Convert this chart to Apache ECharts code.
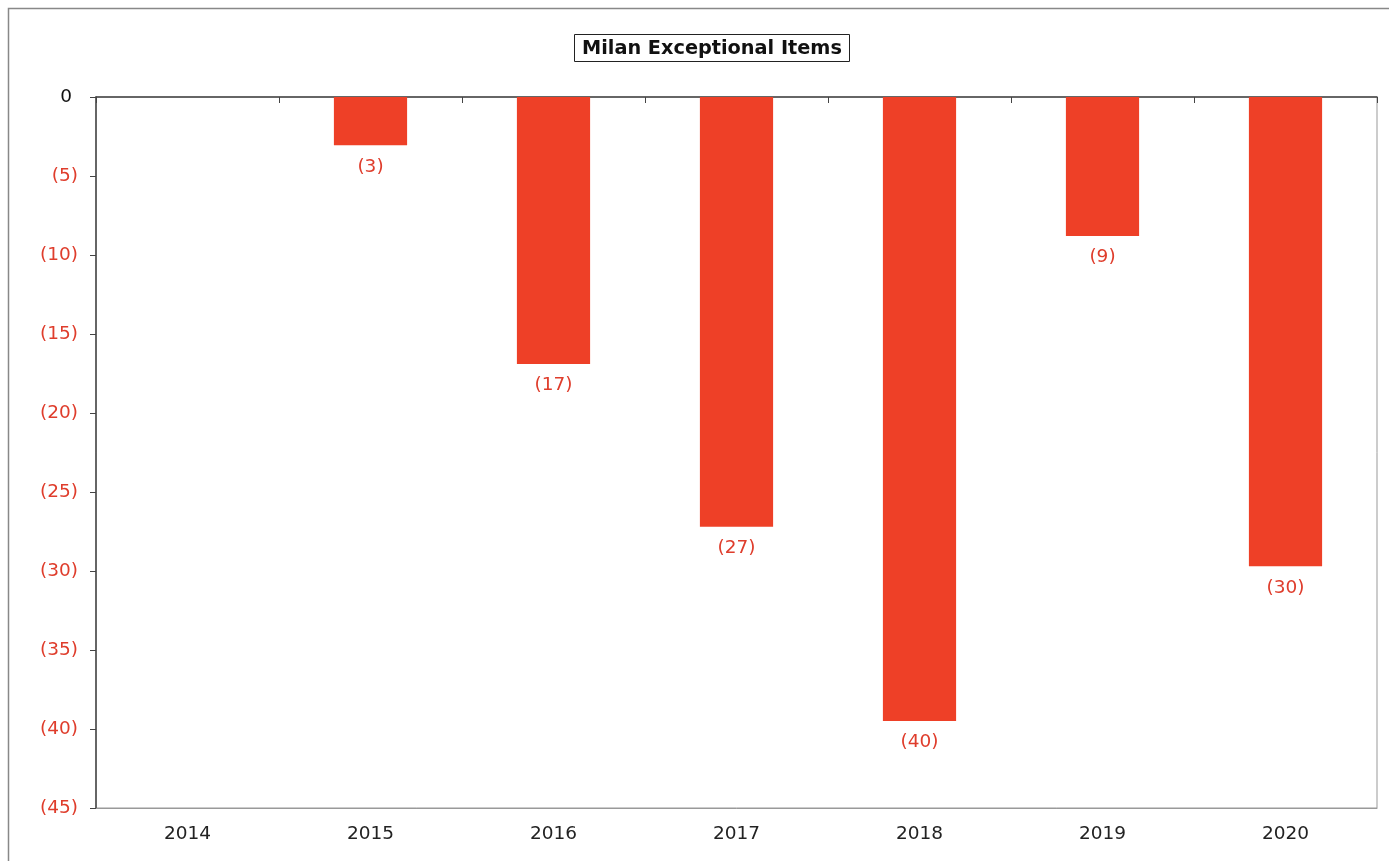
<!DOCTYPE html>
<html><head><meta charset="utf-8">
<script src="https://cdn.jsdelivr.net/npm/echarts@6/dist/echarts.min.js"></script>
<style>html,body{margin:0;padding:0;background:#fff}#c{width:1389px;height:861px}</style>
</head><body><div id="c"></div>
<script>
var categories = ['2014','2015','2016','2017','2018','2019','2020'];
var values = [0, -3.05, -16.9, -27.2, -39.5, -8.8, -29.7];
var yTicks = {min: -45, max: 0, interval: 5};
var titleText = 'Milan Exceptional Items';

var RED = '#df3d2c';
var FONT = 'DejaVu Sans';
var FS = 18.5;
var chart = echarts.init(document.getElementById('c'));
chart.setOption({
  animation: false,
  backgroundColor: '#fff',
  title: {
    text: titleText, left: 574, top: 34,
    padding: [4, 8, 3, 8],
    borderColor: '#222', borderWidth: 1,
    textStyle: {fontFamily: FONT, fontWeight: 'bold', fontSize: 19.3, color: '#111', lineHeight: 21}
  },
  graphic: [{type: 'rect', shape: {x: 8.5, y: 8.5, width: 1400, height: 900},
    style: {fill: 'none', stroke: '#888', lineWidth: 1.5}, silent: true}],
  grid: {left: 96, right: 12, top: 97, bottom: 53, show: true, borderColor: '#999', borderWidth: 1},
  xAxis: [{
    type: 'category', data: categories, position: 'bottom',
    axisLine: {show: true, onZero: false, lineStyle: {color: '#999'}},
    axisTick: {show: false},
    axisLabel: {fontFamily: FONT, fontSize: FS, color: '#222', margin: 17}
  }, {
    type: 'category', data: categories, position: 'top',
    axisLine: {show: true, onZero: false, lineStyle: {color: '#444', width: 1.5}},
    axisTick: {show: true, inside: true, length: 6, alignWithLabel: false, lineStyle: {color: '#444'}},
    axisLabel: {show: false}
  }],
  yAxis: {
    type: 'value', min: yTicks.min, max: yTicks.max, interval: yTicks.interval,
    axisLine: {show: true, lineStyle: {color: '#444', width: 1.5}},
    axisTick: {show: true, length: 6, lineStyle: {color: '#444'}},
    splitLine: {show: false},
    axisLabel: {
      fontFamily: FONT, fontSize: FS, margin: 18,
      formatter: function (v) { return v === 0 ? '{k|0} ' : '{r|(' + (-v) + ')}'; },
      rich: {k: {color: '#111', fontFamily: FONT, fontSize: FS}, r: {color: RED, fontFamily: FONT, fontSize: FS}}
    }
  },
  series: [{
    type: 'bar', data: values, barWidth: '40%', xAxisIndex: 0,
    itemStyle: {color: '#ee4027'},
    label: {
      show: true, position: 'bottom', distance: 12, color: RED,
      fontFamily: FONT, fontSize: FS,
      formatter: function (p) { return p.value === 0 ? '' : '(' + Math.round(-p.value) + ')'; }
    }
  }]
});
</script></body></html>
